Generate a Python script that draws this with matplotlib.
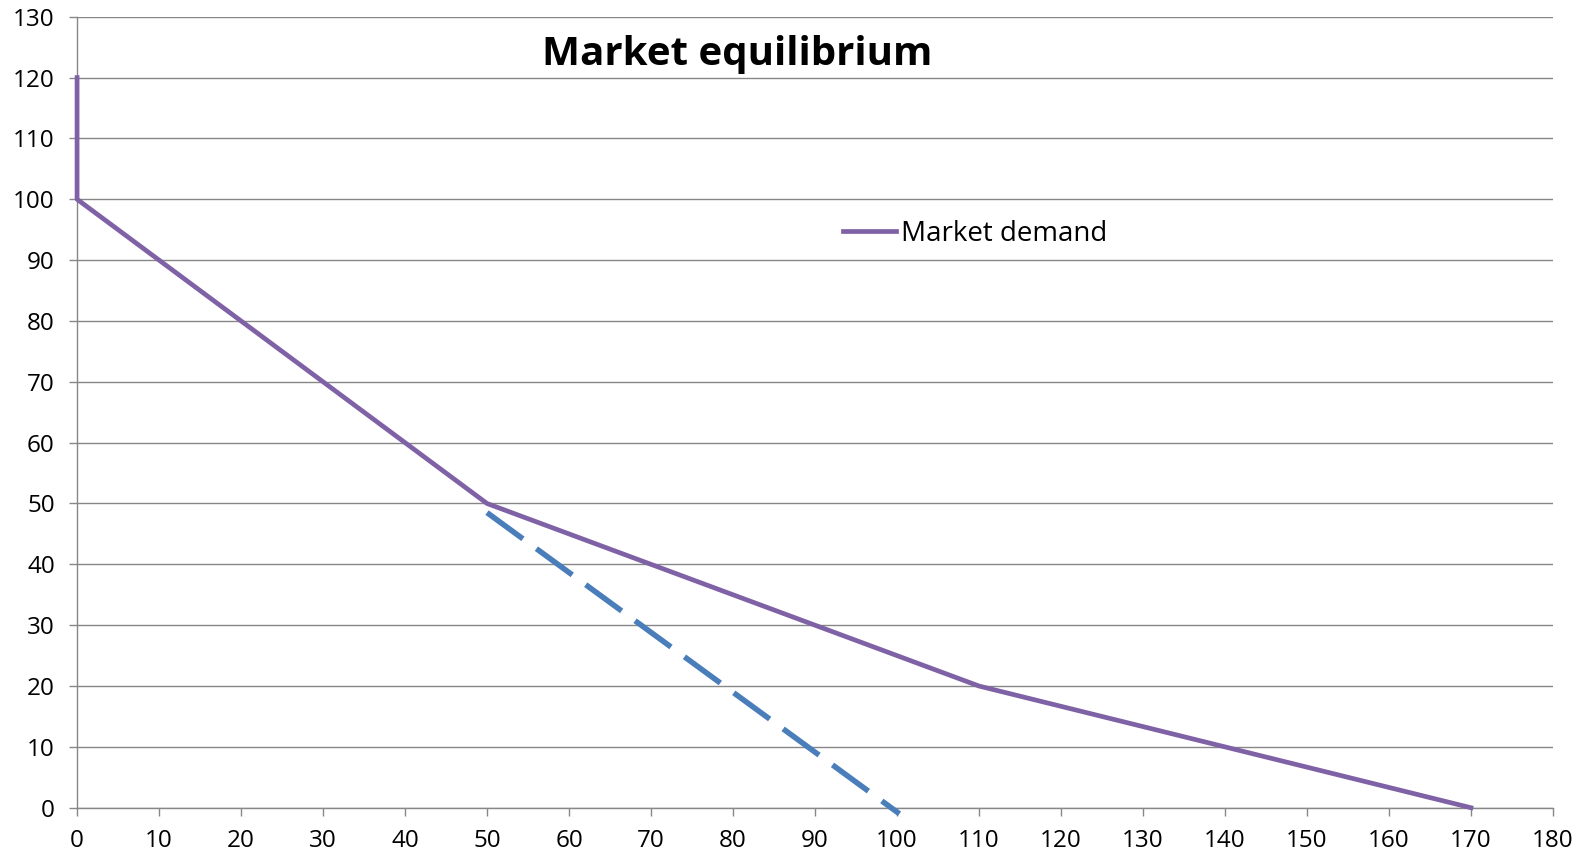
import matplotlib

matplotlib.use("Agg")
import matplotlib.pyplot as plt


# market demand curve (quantity, price)
demand_q = [0, 0, 50, 110, 170]
demand_p = [120, 100, 50, 20, 0]

# single-firm demand segment, dashed
firm_q = [50, 100.3]
firm_p = [48.5, -1]

x_ticks = list(range(0, 181, 10))
y_ticks = list(range(0, 131, 10))

PURPLE = "#7F62A6"
BLUE = "#4A7EBB"
GRID = "#878787"

plt.rcParams.update({
    "font.family": ["Open Sans", "DejaVu Sans"],
    "lines.scale_dashes": False,
})

fig = plt.figure(figsize=(15.89, 8.58), dpi=100)
ax = fig.add_axes([0.0485, 0.0586, 0.9288, 0.9219])

ax.plot(demand_q, demand_p, color=PURPLE, linewidth=3.4,
        solid_joinstyle="round", clip_on=False, zorder=4,
        label="Market demand")
ax.plot(firm_q, firm_p, color=BLUE, linewidth=4.0, dashes=(32, 12),
        clip_on=False, zorder=3)

ax.set_xlim(0, 180)
ax.set_ylim(0, 130)
ax.set_xticks(x_ticks)
ax.set_yticks(y_ticks)
ax.tick_params(axis="both", direction="out", color=GRID, width=1.0,
               labelsize=17.5, labelcolor="black")
ax.tick_params(axis="y", length=6, pad=10)
ax.tick_params(axis="x", length=5.5, pad=10)

ax.grid(axis="y", color=GRID, linewidth=1.0)
ax.set_axisbelow(True)
for side in ("top", "right"):
    ax.spines[side].set_visible(False)
for side in ("left", "bottom"):
    ax.spines[side].set_color(GRID)
    ax.spines[side].set_linewidth(1.0)

fig.text(737 / 1589, 1 - 54 / 858, "Market equilibrium", ha="center",
         va="center", fontsize=29, fontweight="bold")

fig.legend(loc="center left", bbox_to_anchor=(843 / 1589, 1 - 234 / 858),
           frameon=False, fontsize=20, handlelength=1.9, handletextpad=0.18,
           borderpad=0, borderaxespad=0)

fig.savefig("out.png", dpi=100)
